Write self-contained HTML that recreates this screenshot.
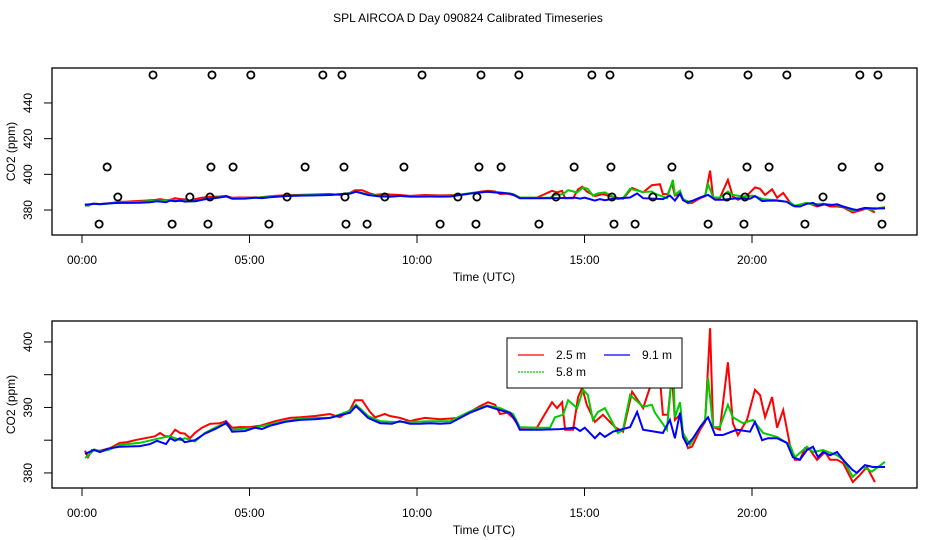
<!DOCTYPE html>
<html><head><meta charset="utf-8"><style>
html,body{margin:0;padding:0;background:#fff;}
svg{display:block;font-family:"Liberation Sans",sans-serif;}
</style></head><body>
<svg id="chart" width="936" height="540" viewBox="0 0 936 540" xmlns="http://www.w3.org/2000/svg">
<rect width="936" height="540" fill="#fff"/>
<text x="468" y="22" font-size="12" text-anchor="middle">SPL AIRCOA D  Day 090824  Calibrated Timeseries</text>
<g id="top"></g>
<g id="bot"></g>
</svg>
<script>
const xTickHours=[0,5,10,15,20];
const xTickLabels=["00:00","05:00","10:00","15:00","20:00"];
const topYTicks=[380,400,420,440];
const botYTicks=[380,385,390,395,400];
const botYLabels=[380,390,400];

const redT=[0.09,0.18,0.30,0.54,0.84,1.13,1.34,1.58,1.88,2.18,2.33,2.48,2.63,2.78,2.93,3.07,3.22,3.37,3.58,3.82,4.12,4.30,4.48,4.72,5.01,5.31,5.76,6.21,6.51,6.96,7.40,7.70,8.00,8.15,8.36,8.60,8.75,9.04,9.19,9.49,9.79,9.94,10.24,10.69,11.28,11.58,11.88,12.12,12.33,12.48,12.69,12.87,13.07,13.58,13.76,14.03,14.18,14.33,14.42,14.66,14.81,14.93,15.07,15.31,15.55,15.91,16.15,16.42,16.75,17.01,17.25,17.34,17.49,17.61,17.70,17.85,17.94,18.09,18.21,18.45,18.60,18.75,18.84,19.04,19.28,19.43,19.58,19.85,20.09,20.24,20.39,20.60,20.75,20.93,21.13,21.28,21.43,21.58,21.73,21.94,22.18,22.33,22.54,22.72,23.01,23.22,23.43,23.67];
const redV=[383.4,382.4,383.5,383.4,383.8,384.6,384.7,385.0,385.3,385.6,386.1,385.6,385.6,386.6,386.1,386.0,385.3,386.1,386.9,387.5,387.6,387.9,386.9,387.0,387.0,387.2,387.9,388.4,388.5,388.7,389.0,388.5,389.6,391.1,391.1,389.3,388.5,389.0,388.7,388.4,387.9,388.1,388.4,388.2,388.4,389.3,390.2,390.8,390.4,389.0,389.2,388.4,386.9,386.9,388.5,390.8,389.9,390.8,386.6,386.6,391.6,393.0,390.4,387.8,388.9,387.0,386.3,392.4,389.9,393.9,394.5,388.9,388.9,395.0,388.1,388.9,386.1,383.8,384.0,386.6,387.8,402.1,387.0,386.6,396.9,387.6,385.8,388.1,392.7,391.9,388.5,391.6,386.9,389.6,384.3,382.0,382.0,383.8,383.5,382.0,383.2,382.0,382.0,381.5,378.6,379.7,380.9,378.6];

const greenT=[0.09,0.18,0.36,0.54,0.78,1.13,1.73,2.33,2.63,2.93,3.07,3.37,3.67,3.97,4.27,4.48,5.16,5.61,6.06,6.51,6.96,7.40,8.00,8.18,8.54,8.90,9.25,9.79,10.39,10.99,11.58,12.09,12.48,12.87,13.07,13.58,13.97,14.12,14.36,14.51,14.78,14.96,15.10,15.25,15.40,15.61,15.91,16.00,16.15,16.36,16.75,17.01,17.10,17.46,17.55,17.64,17.70,17.85,17.94,18.15,18.45,18.60,18.69,18.84,19.04,19.28,19.43,19.73,20.03,20.33,20.75,21.13,21.28,21.64,21.82,22.12,22.54,22.72,23.01,23.31,23.58,23.97];
const greenV=[382.3,382.6,383.6,383.3,383.5,384.3,384.6,385.3,385.6,385.0,385.3,384.8,386.1,386.9,387.6,386.6,386.9,387.4,387.9,388.3,388.4,388.4,389.5,390.4,388.7,387.9,387.8,387.8,387.9,387.9,389.4,390.3,389.9,389.0,387.0,386.9,386.9,388.5,388.9,391.1,389.9,392.7,391.9,388.1,389.3,389.9,387.0,386.1,386.6,391.9,390.1,390.4,389.2,386.6,391.6,396.9,388.5,390.8,386.1,384.3,387.0,388.1,394.5,387.0,387.0,390.4,388.5,387.6,388.1,386.1,385.5,384.3,382.4,384.0,383.2,383.5,382.7,382.0,379.4,380.9,380.2,381.7];

const blueT=[0.09,0.18,0.36,0.54,0.78,1.13,1.73,2.03,2.24,2.51,2.63,2.78,2.93,3.07,3.37,3.67,3.97,4.27,4.30,4.48,4.87,5.16,5.37,5.61,6.06,6.51,6.96,7.40,8.00,8.18,8.54,8.90,9.25,9.49,9.79,10.09,10.39,10.69,10.99,11.58,12.09,12.48,12.78,12.93,13.07,13.67,14.27,14.72,14.87,15.01,15.31,15.46,15.61,15.85,16.36,16.57,16.75,17.34,17.55,17.70,17.85,17.94,18.06,18.24,18.45,18.69,18.90,19.13,19.55,19.94,20.09,20.30,20.48,20.75,21.04,21.22,21.43,21.64,21.82,21.97,22.12,22.33,22.54,22.72,22.99,23.13,23.37,23.61,23.97];
const blueV=[382.9,383.1,383.5,383.2,383.7,384.0,384.1,384.4,384.9,384.4,385.3,384.9,385.3,384.7,385.0,386.0,386.7,387.5,387.8,386.3,386.4,386.9,386.7,387.2,387.8,388.1,388.2,388.4,389.2,390.2,388.4,387.6,387.5,387.9,387.5,387.5,387.6,387.5,387.6,389.2,390.2,389.6,389.2,388.1,386.6,386.6,386.7,386.9,386.4,386.9,385.3,386.1,385.5,386.3,387.0,389.3,386.6,386.1,388.1,385.3,389.2,385.5,384.3,385.3,387.0,388.5,385.8,385.8,386.6,386.3,387.8,385.0,385.3,385.3,384.6,382.4,382.0,383.5,384.0,382.4,383.2,382.7,383.2,382.0,380.5,380.0,381.2,380.9,380.9];

const flagT=[2.12,3.88,5.04,7.19,7.76,10.15,11.91,13.04,15.22,15.76,18.12,19.88,21.04,23.22,23.76,
 0.75,3.85,4.51,6.66,7.82,9.61,11.85,12.51,14.69,15.79,17.61,19.85,20.51,22.69,23.79,
 1.07,3.22,3.82,6.12,7.85,9.04,11.22,11.79,14.15,15.82,17.04,19.25,19.79,22.12,23.85,
 0.51,2.69,3.76,5.58,7.88,8.51,10.69,11.76,13.64,15.88,16.51,18.69,19.76,21.58,23.88];
const flagV=[455.7,455.7,455.7,455.7,455.7,455.7,455.7,455.7,455.7,455.7,455.7,455.7,455.7,455.7,455.7,
 404.1,404.1,404.1,404.1,404.1,404.1,404.1,404.1,404.1,404.1,404.1,404.1,404.1,404.1,404.1,
 387.3,387.3,387.3,387.3,387.3,387.3,387.3,387.3,387.3,387.3,387.3,387.3,387.3,387.3,387.3,
 372.1,372.1,372.1,372.1,372.1,372.1,372.1,372.1,372.1,372.1,372.1,372.1,372.1,372.1,372.1];

const NS="http://www.w3.org/2000/svg";
function mk(tag,attrs,parent){const e=document.createElementNS(NS,tag);for(const k in attrs)e.setAttribute(k,attrs[k]);parent.appendChild(e);return e;}
const X0=52,X1=917;
function xs(h){return 82+h*33.5;}

function panel(g,top,bot,vTop,vBot,yTicks,yLabels,prefix){
  const ys=v=>top+(vTop-v)/(vTop-vBot)*(bot-top);
  mk('rect',{x:X0,y:top,width:X1-X0,height:bot-top,fill:'none',stroke:'#000','stroke-width':1.3},g);
  xTickHours.forEach((h,i)=>{
    const t=mk('line',{x1:xs(h),x2:xs(h),y1:bot,y2:bot+8,stroke:'#000','stroke-width':1},g);
    
    
    const l=mk('text',{x:xs(h),y:bot+29,'font-size':12,'text-anchor':'middle'},g);
    l.textContent=xTickLabels[i];
    
    
  });
  const xt=mk('text',{x:484,y:bot+46,'font-size':12,'text-anchor':'middle'},g);
  xt.textContent='Time (UTC)';
  
  
  yTicks.forEach(v=>{
    const t=mk('line',{x1:44,x2:X0,y1:ys(v),y2:ys(v),stroke:'#000','stroke-width':1},g);
    
    
  });
  yLabels.forEach(v=>{
    const l=mk('text',{x:0,y:0,'font-size':12,'text-anchor':'middle',transform:`translate(32,${ys(v)}) rotate(-90)`},g);
    l.textContent=String(v);
    
    
  });
  const yt=mk('text',{x:0,y:0,'font-size':12,'text-anchor':'middle',transform:`translate(15,${(top+bot)/2}) rotate(-90)`},g);
  yt.textContent='CO2 (ppm)';
  
  
  const series=[[redT,redV,'#ff0000','red','series-2-5m'],[greenT,greenV,'#00cc00','green','series-5-8m'],[blueT,blueV,'#0000ff','blue','series-9-1m']];
  series.forEach(s=>{
    const d=s[0].map((h,i)=>(i?'L':'M')+xs(h).toFixed(1)+','+ys(s[1][i]).toFixed(1)).join('');
    const p=mk('path',{d:d,fill:'none',stroke:s[2],'stroke-width':2,'stroke-linejoin':'miter'},g);
    
    
  });
  return ys;
}

const gt=document.getElementById('top');
const ysTop=panel(gt,68,235,459.6,366.0,topYTicks,topYTicks,'top');
flagT.forEach((h,i)=>{
  const c=mk('circle',{cx:xs(h),cy:ysTop(flagV[i]),r:3.6,fill:'none',stroke:'#000','stroke-width':1.8},gt);
  
  
});
const gb=document.getElementById('bot');
panel(gb,321,488,403.2,377.7,botYTicks,botYLabels,'bottom');

// legend
const lg=mk('g',{},gb);


mk('rect',{x:507,y:338,width:175,height:50,fill:'#fff',stroke:'#000','stroke-width':1},lg);
const items=[[518,355,'#ff0000','2.5 m','0'],[604,355,'#0000ff','9.1 m','0'],[518,372,'#00cc00','5.8 m','2,1']];
items.forEach(it=>{
  const ln=mk('line',{x1:it[0],x2:it[0]+26,y1:it[1],y2:it[1],stroke:it[2],'stroke-width':1.2,'stroke-dasharray':it[4]==='0'?'none':it[4]},lg);
  
  
  const t=mk('text',{x:it[0]+38,y:it[1]+4,'font-size':12},lg);
  t.textContent=it[3];
  
  
});
</script>
</body></html>
